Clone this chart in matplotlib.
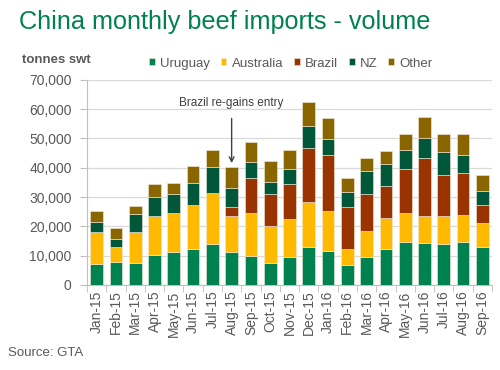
import numpy as np
import matplotlib.pyplot as plt
from matplotlib.ticker import FuncFormatter

plt.rcParams['font.family'] = ['Liberation Sans', 'DejaVu Sans']

months = ["Jan-15", "Feb-15", "Mar-15", "Apr-15", "May-15", "Jun-15", "Jul-15",
          "Aug-15", "Sep-15", "Oct-15", "Nov-15", "Dec-15", "Jan-16", "Feb-16",
          "Mar-16", "Apr-16", "May-16", "Jun-16", "Jul-16", "Aug-16", "Sep-16"]

# tonnes swt
uruguay = [7300, 7700, 7400, 10300, 11300, 12200, 13900, 11200, 9800, 7500, 9500,
           12800, 11700, 6700, 9400, 12300, 14700, 14400, 14000, 14500, 13000]
australia = [10900, 5300, 10800, 13100, 13200, 15100, 17500, 12400, 14800, 12700, 12900,
             15600, 13600, 5700, 9100, 10600, 9700, 9100, 9500, 9500, 8100]
brazil = [0, 0, 0, 0, 0, 0, 0, 3100, 11800, 10900, 12100,
          18300, 19000, 14300, 12600, 10900, 15300, 20000, 14100, 14100, 6200]
nz = [3400, 2600, 5900, 6600, 6400, 7400, 8700, 6400, 5400, 4100, 5100,
      7400, 5500, 5100, 7800, 7600, 6400, 6600, 7800, 6300, 4900]
other = [3800, 3800, 3000, 4500, 3900, 5900, 6100, 7000, 7100, 7000, 6500,
         8200, 7100, 4600, 4600, 4200, 5600, 7100, 6000, 7200, 5300]

series = [("Uruguay", uruguay, "#008150"),
          ("Australia", australia, "#FFB900"),
          ("Brazil", brazil, "#993300"),
          ("NZ", nz, "#00573A"),
          ("Other", other, "#8A6600")]

gray = "#595959"

fig = plt.figure(figsize=(5, 3.7), dpi=100)
ax = fig.add_axes([0.174, 0.23, 0.81, 0.554])

x = np.arange(len(months))
bottom = np.zeros(len(months))
for name, vals, col in series:
    vals = np.array(vals)
    ax.bar(x, vals, 0.66, bottom=bottom, color=col, label=name,
           edgecolor="#F2EBD9", linewidth=0.4, zorder=3)
    bottom += vals

ax.set_ylim(0, 70000)
ax.set_xlim(-0.5, len(months) - 0.5)
ax.set_yticks(range(0, 70001, 10000))
ax.yaxis.set_major_formatter(FuncFormatter(lambda v, p: f"{int(v):,}"))
ax.grid(axis="y", color="#D9D9D9", linewidth=0.9, zorder=0)
ax.set_xticks(x)
ax.set_xticklabels(months, rotation=90)
ax.set_xticks(np.arange(-0.5, len(months)), minor=True)
ax.tick_params(axis="x", which="major", length=0, pad=4, labelsize=10, labelcolor=gray)
ax.tick_params(axis="x", which="minor", length=5, color="#BFBFBF")
ax.tick_params(axis="y", length=5, color="#BFBFBF", labelsize=10, labelcolor=gray, pad=6)
for s in ["top", "right"]:
    ax.spines[s].set_visible(False)
ax.spines["left"].set_color("#BFBFBF")
ax.spines["bottom"].set_color("#BFBFBF")

# annotation over Aug-15
i = months.index("Aug-15")
ax.annotate("Brazil re-gains entry", xy=(i, bottom[i] + 1500), xytext=(i, 62200),
            ha="center", va="center", fontsize=8.5, color="#404040",
            arrowprops=dict(arrowstyle="->", color="#404040", lw=1,
                            shrinkA=5, shrinkB=0))

fig.text(0.038, 0.94, "China monthly beef imports - volume", fontsize=18.2,
         color="#008150", va="center", ha="left")
fig.text(0.044, 0.838, "tonnes swt", fontsize=9.5, fontweight="bold",
         color=gray, va="center", ha="left")
fig.legend(loc="center left", bbox_to_anchor=(0.274, 0.828), ncol=5, frameon=False,
           fontsize=9.5, handlelength=0.45, handleheight=0.45, handletextpad=0.4,
           columnspacing=0.8, labelcolor=gray)
fig.text(0.016, 0.045, "Source: GTA", fontsize=9.5, color=gray, va="center")

fig.savefig("out.png", dpi=100)
